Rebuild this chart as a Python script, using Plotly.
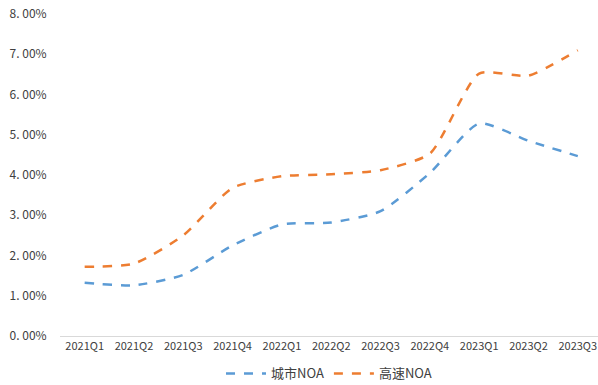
import plotly.graph_objects as go

quarters = ["2021Q1", "2021Q2", "2021Q3", "2021Q4", "2022Q1", "2022Q2",
            "2022Q3", "2022Q4", "2023Q1", "2023Q2", "2023Q3"]
city_noa = [1.32, 1.26, 1.52, 2.25, 2.77, 2.82, 3.10, 4.05, 5.28, 4.85, 4.47]
highway_noa = [1.72, 1.80, 2.50, 3.68, 3.97, 4.02, 4.12, 4.53, 6.52, 6.47, 7.10]
y_ticks = [0, 1, 2, 3, 4, 5, 6, 7, 8]
y_tick_labels = ["0. 00%", "1. 00%", "2. 00%", "3. 00%", "4. 00%",
                 "5. 00%", "6. 00%", "7. 00%", "8. 00%"]

font_family = "Noto Sans CJK SC, DejaVu Sans, sans-serif"

fig = go.Figure()
fig.add_trace(go.Scatter(
    x=quarters, y=city_noa, name="城市NOA", mode="lines",
    line=dict(color="#5B9BD5", width=2.5, dash="dash", shape="spline", smoothing=0.6),
))
fig.add_trace(go.Scatter(
    x=quarters, y=highway_noa, name="高速NOA", mode="lines",
    line=dict(color="#ED7D31", width=2.5, dash="dash", shape="spline", smoothing=0.6),
))

fig.update_layout(
    width=598, height=385,
    margin=dict(l=60, r=0, t=14, b=49, autoexpand=False),
    paper_bgcolor="white", plot_bgcolor="white",
    font=dict(family=font_family, color="#404040", size=12),
    showlegend=True,
    legend=dict(orientation="h", x=0.5, xanchor="center",
                yref="container", y=0.03, yanchor="middle",
                font=dict(size=13, color="#404040"), itemwidth=40,
                traceorder="normal", tracegroupgap=0),
    xaxis=dict(type="category", range=[-0.5, 10.41], showgrid=False,
               showline=True, linecolor="#D9D9D9", linewidth=1,
               ticks="", tickfont=dict(size=11, color="#404040"),
               zeroline=False, automargin=False),
    yaxis=dict(range=[0, 8], tickvals=y_ticks, ticktext=y_tick_labels,
               showgrid=False, showline=False, zeroline=False,
               ticks="outside", ticklen=10, tickcolor="white",
               tickfont=dict(size=12, color="#404040"), automargin=False),
)

fig.write_html("out.html")
